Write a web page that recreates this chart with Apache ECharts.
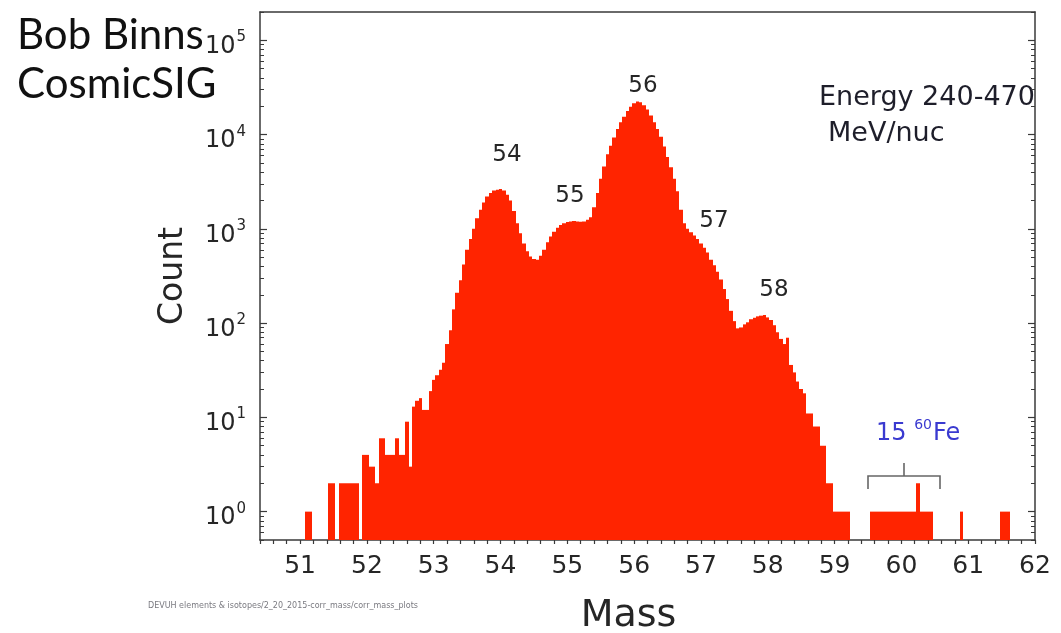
<!DOCTYPE html>
<html>
<head>
<meta charset="utf-8">
<script src="https://cdn.jsdelivr.net/npm/echarts@6/dist/echarts.min.js"></script>
<style>
  html, body { margin: 0; padding: 0; background: #ffffff; }
  #chart { width: 1061px; height: 633px; }
</style>
</head>
<body>
<div id="chart"></div>
<script>
// ---------------- DATA ----------------
// Histogram of reconstructed mass (bin width 0.05 amu, first bin centred at 51.00)
const binStart = 51.0;
const binWidth = 0.05;
const counts = [
  // 51.00 - 51.95
  0, 0, 1, 1, 0, 0, 0, 0, 0, 2, 2, 0, 2, 2, 2, 2, 2, 2, 0, 4,
  // 52.00 - 52.95
  4, 3, 3, 2, 6, 6, 4, 4, 4, 6, 4, 4, 9, 3, 13, 15, 16, 12, 12, 19,
  // 53.00 - 53.95
  25, 28, 32, 38, 60, 84, 140, 210, 285, 420, 600, 780, 1000, 1300, 1600, 1900, 2200, 2400, 2550, 2600,
  // 54.00 - 54.95
  2650, 2550, 2300, 2000, 1550, 1150, 900, 700, 580, 510, 480, 470, 520, 600, 720, 830, 930, 1030, 1100, 1150,
  // 55.00 - 55.95
  1180, 1200, 1210, 1200, 1190, 1200, 1250, 1330, 1700, 2400, 3400, 4600, 6200, 7600, 9300, 11500, 13500, 15500, 17800, 19800,
  // 56.00 - 56.95
  21500, 22500, 22000, 20500, 18500, 16000, 13500, 11500, 9500, 7500, 5800, 4500, 3400, 2500, 1600, 1150, 1000, 920, 850, 780,
  // 57.00 - 57.95
  700, 630, 560, 470, 410, 350, 290, 230, 180, 135, 105, 88, 90, 97, 102, 110, 114, 118, 120, 122,
  // 58.00 - 58.95
  115, 108, 95, 80, 68, 60, 70, 36, 30, 24, 20, 18, 11, 11, 8, 8, 5, 5, 2, 2,
  // 59.00 - 59.95
  1, 1, 1, 1, 1, 0, 0, 0, 0, 0, 0, 1, 1, 1, 1, 1, 1, 1, 1, 1,
  // 60.00 - 60.95
  1, 1, 1, 1, 1, 2, 1, 1, 1, 1, 0, 0, 0, 0, 0, 0, 0, 0, 1, 0,
  // 61.00 - 61.95
  0, 0, 0, 0, 0, 0, 0, 0, 0, 0, 1, 1, 1, 0, 0, 0, 0, 0, 0, 0,
  // 62.00
  0
];

const xMin = 50.4, xMax = 62, xStep = 0.2;
const yMin = 0.5, yMax = 2e5;
const yTickValues = [1, 10, 100, 1000, 10000, 100000];
const yTickExponents = ['0', '1', '2', '3', '4', '5'];
const peakLabels = ['54', '55', '56', '57', '58'];
const titleLines = ['Bob Binns', 'CosmicSIG'];
const energyLines = ['Energy 240-470', 'MeV/nuc'];
const feCount = '15';
const feMass = '60';
const feSymbol = 'Fe';
const footerText = 'DEVUH elements & isotopes/2_20_2015-corr_mass/corr_mass_plots';

// ---------------- BUILD ----------------
const histData = [];
counts.forEach((c, i) => {
  if (c > 0) histData.push([+(binStart + i * binWidth).toFixed(2), c]);
});

// minor log ticks (2..9 x decade) inside axis range
const yMinorTicks = [];
for (let e = -1; e <= 5; e++) {
  for (let k = 2; k <= 9; k++) {
    const v = k * Math.pow(10, e);
    if (v >= yMin && v <= yMax) yMinorTicks.push(+v.toPrecision(3));
  }
}

const axisColor = '#3a3a3a';
const textColor = '#262626';
const barColor = '#ff2400';
const sans = '"DejaVu Sans", "Liberation Sans", sans-serif';

const chart = echarts.init(document.getElementById('chart'), null, { renderer: 'canvas' });

const expIndex = v => yTickValues.findIndex(t => Math.abs(t - v) / t < 1e-6);

const baseYAxis = {
  type: 'log',
  logBase: 10,
  min: yMin,
  max: yMax,
  splitLine: { show: false },
  axisLine: { show: true, lineStyle: { color: axisColor, width: 1.5 } }
};

const option = {
  animation: false,
  backgroundColor: '#ffffff',
  grid: { left: 260, right: 26, top: 12, bottom: 93, containLabel: false, outerBoundsMode: 'none' },
  xAxis: [
    {
      type: 'value',
      min: xMin, max: xMax, interval: xStep,
      position: 'bottom',
      name: 'Mass',
      nameLocation: 'middle',
      nameGap: 57,
      nameTextStyle: { fontFamily: sans, fontSize: 38, color: textColor, padding: [0, 38, 0, 0] },
      axisLine: { show: true, onZero: false, lineStyle: { color: axisColor, width: 1.5 } },
      axisTick: { show: true, inside: false, length: 4, lineStyle: { color: axisColor, width: 1.2 } },
      axisLabel: {
        show: true, margin: 14, fontFamily: sans, fontSize: 25, color: textColor,
        hideOverlap: false,
        interval: 0,
        formatter: v => (Math.abs(v - Math.round(v)) < 1e-6 ? String(Math.round(v)) : '')
      },
      splitLine: { show: false }
    },
    {
      type: 'value',
      min: xMin, max: xMax, interval: xStep,
      position: 'top',
      axisLine: { show: true, onZero: false, lineStyle: { color: axisColor, width: 1.5 } },
      axisTick: { show: false },
      axisLabel: { show: false },
      splitLine: { show: false }
    }
  ],
  yAxis: [
    Object.assign({}, baseYAxis, {
      position: 'left',
      name: 'Count',
      nameLocation: 'middle',
      nameRotate: 90,
      nameGap: 70,
      nameTextStyle: { fontFamily: sans, fontSize: 33, color: textColor },
      axisTick: { show: true, inside: true, length: 7, customValues: yTickValues, lineStyle: { color: axisColor, width: 1.2 } },
      axisLabel: {
        show: true,
        margin: 14,
        customValues: yTickValues,
        formatter: v => {
          const i = expIndex(v);
          if (i < 0) return '';
          return '{b|10}{s|' + yTickExponents[i] + '}';
        },
        rich: {
          b: { fontFamily: sans, fontSize: 24, lineHeight: 24, color: textColor, padding: [13, 0, 0, 0] },
          s: { fontFamily: sans, fontSize: 15, lineHeight: 15, color: textColor, padding: [0, 0, 6, 1] }
        }
      }
    }),
    Object.assign({}, baseYAxis, {
      position: 'right',
      axisTick: { show: true, inside: true, length: 7, customValues: yTickValues, lineStyle: { color: axisColor, width: 1.2 } },
      axisLabel: { show: false }
    }),
    Object.assign({}, baseYAxis, {
      position: 'left',
      axisLine: { show: false },
      axisTick: { show: true, inside: true, length: 4, customValues: yMinorTicks, lineStyle: { color: axisColor, width: 1 } },
      axisLabel: { show: false }
    }),
    Object.assign({}, baseYAxis, {
      position: 'right',
      axisLine: { show: false },
      axisTick: { show: true, inside: true, length: 4, customValues: yMinorTicks, lineStyle: { color: axisColor, width: 1 } },
      axisLabel: { show: false }
    })
  ],
  series: [
    {
      type: 'custom',
      name: 'Count',
      xAxisIndex: 0,
      yAxisIndex: 0,
      clip: true,
      data: histData,
      encode: { x: 0, y: 1 },
      renderItem: (params, api) => {
        const m = api.value(0);
        const c = api.value(1);
        const topLeft = api.coord([m - binWidth / 2, c]);
        const bottomRight = api.coord([m + binWidth / 2, yMin]);
        const x0 = Math.round(topLeft[0]);
        const x1 = Math.round(bottomRight[0]);
        return {
          type: 'rect',
          shape: {
            x: x0,
            y: topLeft[1],
            width: x1 - x0,
            height: bottomRight[1] - topLeft[1]
          },
          style: { fill: barColor }
        };
      }
    }
  ],
  graphic: [
    // title (top-left)
    { type: 'text', x: 17, y: 35, style: { text: titleLines[0], font: '42px Lato', fill: '#111', align: 'left', verticalAlign: 'middle', textAlign: 'left', textVerticalAlign: 'middle' } },
    { type: 'text', x: 17, y: 84, style: { text: titleLines[1], font: '42px Lato', fill: '#111', align: 'left', verticalAlign: 'middle', textAlign: 'left', textVerticalAlign: 'middle' } },
    // energy annotation
    { type: 'text', x: 819, y: 98, style: { text: energyLines[0], font: '27px ' + sans, fill: '#1e1e2a', align: 'left', verticalAlign: 'middle', textAlign: 'left', textVerticalAlign: 'middle' } },
    { type: 'text', x: 828, y: 134, style: { text: energyLines[1], font: '27px ' + sans, fill: '#1e1e2a', align: 'left', verticalAlign: 'middle', textAlign: 'left', textVerticalAlign: 'middle' } },
    // peak labels
    { type: 'text', x: 507, y: 155, style: { text: peakLabels[0], font: '23px ' + sans, fill: textColor, align: 'center', verticalAlign: 'middle', textAlign: 'center', textVerticalAlign: 'middle' } },
    { type: 'text', x: 570, y: 196, style: { text: peakLabels[1], font: '23px ' + sans, fill: textColor, align: 'center', verticalAlign: 'middle', textAlign: 'center', textVerticalAlign: 'middle' } },
    { type: 'text', x: 643, y: 86, style: { text: peakLabels[2], font: '23px ' + sans, fill: textColor, align: 'center', verticalAlign: 'middle', textAlign: 'center', textVerticalAlign: 'middle' } },
    { type: 'text', x: 714, y: 221, style: { text: peakLabels[3], font: '23px ' + sans, fill: textColor, align: 'center', verticalAlign: 'middle', textAlign: 'center', textVerticalAlign: 'middle' } },
    { type: 'text', x: 774, y: 290, style: { text: peakLabels[4], font: '23px ' + sans, fill: textColor, align: 'center', verticalAlign: 'middle', textAlign: 'center', textVerticalAlign: 'middle' } },
    // 60Fe annotation
    {
      type: 'text', x: 876, y: 430,
      style: {
        text: '{n|' + feCount + ' }{s|' + feMass + '}{n|' + feSymbol + '}',
        align: 'left', verticalAlign: 'middle', textAlign: 'left', textVerticalAlign: 'middle',
        rich: {
          n: { fontFamily: sans, fontSize: 24, lineHeight: 24, fill: '#3a3ad0', color: '#3a3ad0', padding: [8, 0, 0, 0] },
          s: { fontFamily: sans, fontSize: 14, lineHeight: 14, fill: '#3a3ad0', color: '#3a3ad0', padding: [0, 1, 10, 0] }
        }
      }
    },
    // bracket
    { type: 'polyline', shape: { points: [[868, 489], [868, 476], [940, 476], [940, 489]] }, style: { stroke: '#666', lineWidth: 1.6, fill: null } },
    { type: 'line', shape: { x1: 904, y1: 476, x2: 904, y2: 463 }, style: { stroke: '#666', lineWidth: 1.6 } },
    // footer path
    { type: 'text', x: 148, y: 606, style: { text: footerText, font: '8px ' + sans, fill: '#7a7a80', align: 'left', verticalAlign: 'middle', textAlign: 'left', textVerticalAlign: 'middle' } }
  ]
};

chart.setOption(option);
</script>
</body>
</html>
